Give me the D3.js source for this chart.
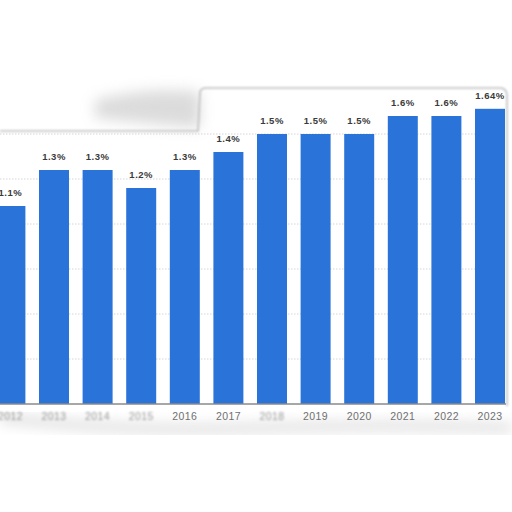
<!DOCTYPE html>
<html>
<head>
<meta charset="utf-8">
<script src="https://cdn.jsdelivr.net/npm/d3@7"></script>
<style>
  html, body { margin: 0; padding: 0; background: #fff; }
  svg { display: block; }
</style>
</head>
<body>
<svg id="chart" width="512" height="512"></svg>
<script>
const years = ["2012", "2013", "2014", "2015", "2016", "2017", "2018", "2019", "2020", "2021", "2022", "2023"];
const shares = [1.1, 1.3, 1.3, 1.2, 1.3, 1.4, 1.5, 1.5, 1.5, 1.6, 1.6, 1.64];
const gridTicks = [0.25, 0.5, 0.75, 1, 1.25, 1.5];

const width = 512, height = 512;
const baseY = 404;

const svg = d3.select("#chart");

const defs = svg.append("defs");
defs.append("filter").attr("id", "soft").attr("x", "-50%").attr("y", "-50%").attr("width", "200%").attr("height", "200%")
  .append("feGaussianBlur").attr("stdDeviation", 7);
defs.append("filter").attr("id", "soft2").attr("x", "-50%").attr("y", "-50%").attr("width", "200%").attr("height", "200%")
  .append("feGaussianBlur").attr("stdDeviation", 1.3);

const x = d3.scaleBand()
    .domain(years)
    .range([-11.4, 511.8])
    .paddingInner(0.312)
    .paddingOuter(0.156);

const y = d3.scaleLinear()
    .domain([0, 2])
    .range([baseY, baseY - 360]);

// panel edges / shadows of the photographed card
const deco = svg.append("g");
deco.append("path")
    .attr("d", "M95,100 Q150,86 200,92 L200,128 Q150,124 95,118 Z")
    .attr("fill", "#c4c4c4").attr("opacity", 0.6).attr("filter", "url(#soft)");
deco.append("path")
    .attr("d", "M0,131 L198,131 L200,92 Q201,88 206,88 L500,88 Q507,88 507,96 L507,406")
    .attr("fill", "none").attr("stroke", "#bdbdbd").attr("stroke-width", 1.6)
    .attr("filter", "url(#soft2)");
deco.append("path")
    .attr("d", "M0,418 Q120,432 250,428 T512,428")
    .attr("fill", "none").attr("stroke", "#a0a0a0").attr("stroke-width", 7)
    .attr("opacity", 0.45).attr("filter", "url(#soft)");

// grid
svg.append("g")
  .selectAll("line")
  .data(gridTicks)
  .join("line")
    .attr("x1", 0).attr("x2", 505)
    .attr("y1", d => y(d)).attr("y2", d => y(d))
    .attr("stroke", "#d6d6d6")
    .attr("stroke-width", 1)
    .attr("stroke-dasharray", "1.5,1.5");

// bars
svg.append("g")
  .selectAll("rect")
  .data(shares)
  .join("rect")
    .attr("x", (d, i) => x(years[i]))
    .attr("width", x.bandwidth())
    .attr("y", d => y(d))
    .attr("height", d => baseY - y(d))
    .attr("fill", "#2a74d9");

// value labels
svg.append("g")
  .attr("text-anchor", "middle")
  .style("font", "bold 9.5px 'Liberation Sans', Arial, sans-serif")
  .style("letter-spacing", "0.5px")
  .selectAll("text")
  .data(shares)
  .join("text")
    .attr("x", (d, i) => x(years[i]) + x.bandwidth() / 2)
    .attr("y", d => y(d) - 10)
    .attr("fill", "#3a3a3a")
    .text(d => `${d}%`);

// x axis
const axis = svg.append("g")
    .attr("transform", `translate(0,${baseY})`)
    .call(d3.axisBottom(x).tickSize(0).tickPadding(9));
axis.select(".domain").remove();
axis.append("line")
    .attr("x1", 0).attr("x2", 506)
    .attr("stroke", "#8a8a8a").attr("stroke-width", 1.5);
axis.selectAll(".tick text")
    .style("font", "10.5px 'Liberation Sans', Arial, sans-serif")
    .style("letter-spacing", "0.4px")
    .attr("fill", "#707070")
    .attr("filter", (d, i) => (i < 4 || i === 6) ? "url(#soft2)" : null)
    .attr("opacity", (d, i) => (i < 4 || i === 6) ? 0.7 : 1);
</script>
</body>
</html>
